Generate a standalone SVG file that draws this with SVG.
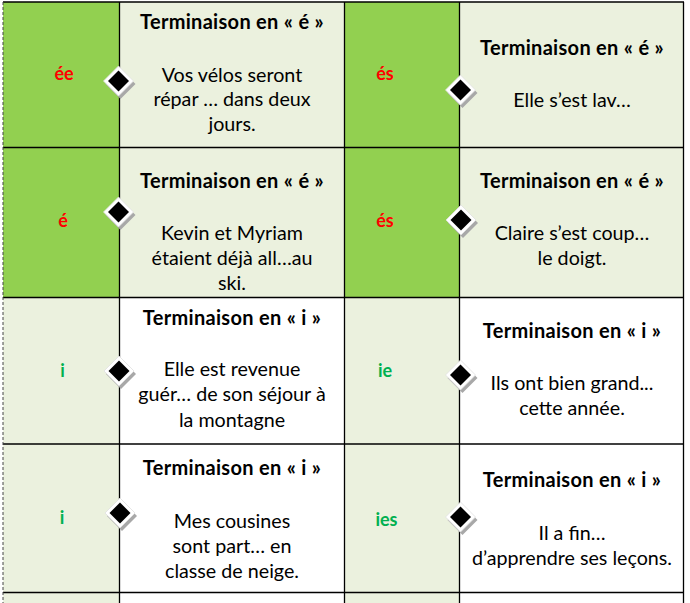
<svg xmlns="http://www.w3.org/2000/svg" width="690" height="603" viewBox="0 0 690 603">
<style>
.bright{fill:#92D050}
.light{fill:#EBF1DE}
.white{fill:#FFFFFF}
.title{font-family:Lato,"Liberation Sans",sans-serif;font-weight:bold;font-size:20px;letter-spacing:0.3px;fill:#000;text-anchor:middle}
.body{font-family:Lato,"Liberation Sans",sans-serif;font-size:19.7px;fill:#000;text-anchor:middle}
.red{font-family:Lato,"Liberation Sans",sans-serif;font-weight:bold;font-size:18px;fill:#FF0000;text-anchor:middle}
.grn{font-family:Lato,"Liberation Sans",sans-serif;font-weight:bold;font-size:18px;fill:#00B050;text-anchor:middle}
.grid{stroke:#000;stroke-width:1.3;fill:none}
</style>
<defs>
<g id="dia">
<polygon points="2,-12 17,3 2,18 -13,3" fill="#A8A8A8"/>
<polygon points="0,-15 15,0 0,15 -15,0" fill="#FFFFFF" stroke="#E0E0E0" stroke-width="0.8"/>
<polygon points="0,-10.5 10.5,0 0,10.5 -10.5,0" fill="#000"/>
</g>
</defs>
<rect width="690" height="603" fill="#FFFFFF"/>
<g id="backgrounds">
<rect class="bright" x="3" y="2" width="116.5" height="295.5"/>
<rect class="light" x="119.5" y="2" width="225.5" height="295.5"/>
<rect class="bright" x="345" y="2" width="115" height="295.5"/>
<rect class="light" x="460" y="2" width="224" height="295.5"/>
<rect class="light" x="3" y="297.5" width="116.5" height="306"/>
<rect class="light" x="345" y="297.5" width="115" height="306"/>
</g>
<g id="grid" class="grid">
<line x1="3" y1="2" x2="684" y2="2"/>
<line x1="3" y1="147.5" x2="684" y2="147.5"/>
<line x1="3" y1="297.5" x2="684" y2="297.5"/>
<line x1="3" y1="444" x2="684" y2="444"/>
<line x1="3" y1="592.5" x2="684" y2="592.5"/>
<line x1="119.5" y1="2" x2="119.5" y2="603"/>
<line x1="344.5" y1="2" x2="344.5" y2="603"/>
<line x1="459.5" y1="2" x2="459.5" y2="603"/>
<line x1="683.5" y1="2" x2="683.5" y2="603"/>
<line x1="3" y1="2" x2="3" y2="603" stroke="#444" stroke-width="1" stroke-dasharray="3,2"/>
</g>
<g id="cell-r1c1"><text class="red" x="64" y="80">ée</text></g>
<g id="cell-r1c2">
<text class="title" x="232" y="29">Terminaison en « é »</text>
<text class="body" x="232" y="81.5">Vos vélos seront</text>
<text class="body" x="232" y="106">répar … dans deux</text>
<text class="body" x="232" y="130.5">jours.</text>
</g>
<g id="cell-r1c3"><text class="red" x="385" y="80">és</text></g>
<g id="cell-r1c4">
<text class="title" x="572" y="55">Terminaison en « é »</text>
<text class="body" x="572" y="106.5">Elle s’est lav…</text>
</g>
<g id="cell-r2c1"><text class="red" x="63" y="227">é</text></g>
<g id="cell-r2c2">
<text class="title" x="232" y="188">Terminaison en « é »</text>
<text class="body" x="232" y="240">Kevin et Myriam</text>
<text class="body" x="232" y="265">étaient déjà all…au</text>
<text class="body" x="232" y="290">ski.</text>
</g>
<g id="cell-r2c3"><text class="red" x="385" y="227">és</text></g>
<g id="cell-r2c4">
<text class="title" x="572" y="188">Terminaison en « é »</text>
<text class="body" x="572" y="240">Claire s’est coup…</text>
<text class="body" x="572" y="265">le doigt.</text>
</g>
<g id="cell-r3c1"><text class="grn" x="62.5" y="377" font-weight="normal">i</text></g>
<g id="cell-r3c2">
<text class="title" x="232" y="325">Terminaison en « i »</text>
<text class="body" x="232" y="376">Elle est revenue</text>
<text class="body" x="232" y="401">guér… de son séjour à</text>
<text class="body" x="232" y="426.5">la montagne</text>
</g>
<g id="cell-r3c3"><text class="grn" x="385" y="377">ie</text></g>
<g id="cell-r3c4">
<text class="title" x="572" y="338">Terminaison en « i »</text>
<text class="body" x="572" y="390">Ils ont bien grand...</text>
<text class="body" x="572" y="415">cette année.</text>
</g>
<g id="cell-r4c1"><text class="grn" x="62" y="524" font-weight="normal">i</text></g>
<g id="cell-r4c2">
<text class="title" x="232" y="475">Terminaison en « i »</text>
<text class="body" x="232" y="528">Mes cousines</text>
<text class="body" x="232" y="553">sont part… en</text>
<text class="body" x="232" y="578">classe de neige.</text>
</g>
<g id="cell-r4c3"><text class="grn" x="386.5" y="526">ies</text></g>
<g id="cell-r4c4">
<text class="title" x="572" y="486.5">Terminaison en « i »</text>
<text class="body" x="572" y="540">Il a fin…</text>
<text class="body" x="572" y="565">d’apprendre ses leçons.</text>
</g>
<g id="markers">
<use href="#dia" x="118.5" y="81"/>
<use href="#dia" x="460.5" y="90"/>
<use href="#dia" x="118.5" y="212"/>
<use href="#dia" x="461" y="220"/>
<use href="#dia" x="119" y="371"/>
<use href="#dia" x="460.5" y="375"/>
<use href="#dia" x="120" y="513"/>
<use href="#dia" x="460.5" y="517"/>
</g>
</svg>
